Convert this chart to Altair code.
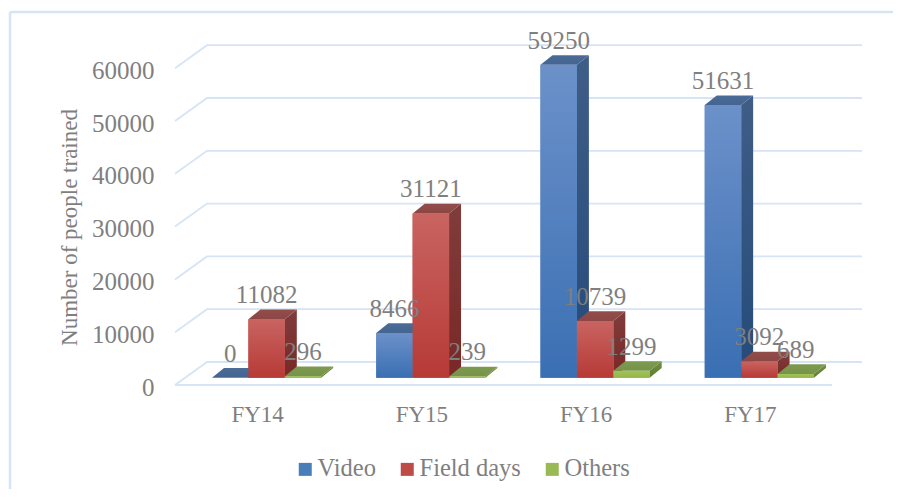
import altair as alt
import pandas as pd

categories = ["FY14", "FY15", "FY16", "FY17"]
series = ["Video", "Field days", "Others"]
video = [0, 8466, 59250, 51631]
field_days = [11082, 31121, 10739, 3092]
others = [296, 239, 1299, 689]
ticks = [0, 10000, 20000, 30000, 40000, 50000, 60000]

FONT = "Liberation Serif"
TXT = "#7f7f7f"
GRID = "#d6e4f5"

W, H = 885, 481
UX = 164.25          # px per category
UY = 52.8 / 10000    # px per value unit
X0, Y0 = 167, 377    # plot position of the floor's front-left corner
xdom = [-X0 / UX, (W - X0) / UX]
ydom = [-(H - Y0) / UY, Y0 / UY]
xs = alt.Scale(domain=xdom, range=[0, W], nice=False, zero=False)
ys = alt.Scale(domain=ydom, range=[H, 0], nice=False, zero=False)


def px(v):
    return v / UX


def py(v):
    return v / UY


BAR_W = px(36.4)
BAR_START = px(37)
BASE = py(7.3)
DX, DY = px(12), py(9.7)
WALL_DX, WALL_DY = px(32), py(23)
X_END = 657 / UX

xaxis = alt.Axis(values=[0.5, 1.5, 2.5, 3.5], orient="bottom", domain=False, ticks=False,
                 grid=False, offset=-86, labelPadding=0, labelFont=FONT, labelFontSize=23,
                 labelColor=TXT, labelBaseline="top", title=None,
                 labelExpr="['FY14','FY15','FY16','FY17'][floor(datum.value)]")
yaxis = alt.Axis(values=ticks, orient="left", domain=False, ticks=False, grid=False,
                 offset=-146, labelPadding=0, labelFont=FONT, labelFontSize=25,
                 labelColor=TXT, format="d", labelOffset=2,
                 title="Number of people trained", titleFont=FONT, titleFontSize=23,
                 titleFontWeight="normal", titleColor=TXT, titleAngle=-90,
                 titleX=-73, titleY=219)
X = alt.X("x:Q", scale=xs, axis=xaxis)
Y = alt.Y("y:Q", scale=ys, axis=yaxis)


def grad(top, bottom):
    return alt.Gradient(gradient="linear", x1=0, x2=0, y1=0, y2=1,
                        stops=[alt.GradientStop(offset=0, color=top),
                               alt.GradientStop(offset=1, color=bottom)])


# grid
grid_rows = []
for t in ticks:
    grid_rows += [
        {"g": f"d{t}", "x": 0, "y": t},
        {"g": f"d{t}", "x": WALL_DX, "y": t + WALL_DY},
        {"g": f"d{t}", "x": X_END + WALL_DX - px(2), "y": t + WALL_DY},
    ]
grid_rows += [{"g": "front", "x": 0, "y": 0}, {"g": "front", "x": X_END, "y": 0}]
grid = alt.Chart(pd.DataFrame(grid_rows)).mark_line(color=GRID, strokeWidth=1.8).encode(
    x=X, y=Y, detail="g:N")

# frame
frame_v = alt.Chart(pd.DataFrame({"a": [0]})).mark_rule(color=GRID, strokeWidth=2.5).encode(
    x=alt.value(2), y=alt.value(4), y2=alt.value(H))
frame_h = alt.Chart(pd.DataFrame({"a": [0]})).mark_rule(color=GRID, strokeWidth=2.5).encode(
    x=alt.value(2), x2=alt.value(W), y=alt.value(4))

values = {"Video": video, "Field days": field_days, "Others": others}
colors = {
    "Video": dict(flat="#4a7ebb", front=("#6c91c9", "#3a6fb3"), side=("#3f5d87", "#254b7a"), top=("#4b6b98", "#456590")),
    "Field days": dict(flat="#be4b48", front=("#c96461", "#b73a36"), side=("#7f3d3b", "#792826"), top=("#924c4a", "#8c4644")),
    "Others": dict(flat="#98b954", front=("#a2c25b", "#93b648"), side=("#6f8d3f", "#5f7f30"), top=("#7d9a50", "#76934a")),
}

flat_rows, label_rows = [], []
face_layers = []
for si, s in enumerate(series):
    side_rows, top_rows, front_rows = [], [], []
    for ci, c in enumerate(categories):
        v = values[s][ci]
        xl = ci + BAR_START + si * BAR_W
        xr = xl + BAR_W
        top = BASE + v
        front_rows.append({"x": xl, "x2": xr, "y": top, "y2": BASE})
        flat_rows.append({"x": xl, "x2": xr, "y": top, "y2": BASE, "series": s})
        side_rows += [{"b": c, "x": xr, "y": top, "y2": BASE},
                      {"b": c, "x": xr + DX, "y": top + DY, "y2": BASE + DY}]
        top_rows += [{"b": c, "y": top, "x": xl, "x2": xr},
                     {"b": c, "y": top + DY, "x": xl + DX, "x2": xr + DX}]
        label_rows.append({"x": (xl + xr) / 2, "y": top, "v": v})
    col = colors[s]
    side = alt.Chart(pd.DataFrame(side_rows)).mark_area(color=grad(*col["side"])).encode(
        x=X, y=Y, y2="y2:Q", detail="b:N")
    topf = alt.Chart(pd.DataFrame(top_rows)).mark_area(color=grad(*col["top"]), orient="horizontal").encode(
        y=Y, x=X, x2="x2:Q", detail="b:N")
    front = alt.Chart(pd.DataFrame(front_rows)).mark_rect(color=grad(*col["front"])).encode(
        x=X, x2="x2:Q", y=Y, y2="y2:Q")
    face_layers += [side, topf, front]

flat = alt.Chart(pd.DataFrame(flat_rows)).mark_rect().encode(
    x=X, x2="x2:Q", y=Y, y2="y2:Q",
    color=alt.Color("series:N", title=None,
                    scale=alt.Scale(domain=series, range=[colors[s]["flat"] for s in series]),
                    legend=alt.Legend(orient="none", legendX=285, legendY=449, direction="horizontal",
                                      symbolType="square", symbolSize=169, symbolStrokeWidth=0,
                                      labelFont=FONT, labelFontSize=24.5, labelColor=TXT, labelOffset=0,
                                      columnPadding=19)),
)

labels = alt.Chart(pd.DataFrame(label_rows)).mark_text(
    font=FONT, fontSize=25, color=TXT, baseline="middle", dy=-24).encode(
    x=X, y=Y, text="v:Q")

chart = alt.layer(frame_v, frame_h, grid, flat, *face_layers, labels).properties(
    width=W, height=H, padding=0, autosize=alt.AutoSizeParams(type="none"),
    background="white").configure_view(stroke=None)

chart.save("out.html", embed_options={"renderer": "svg", "actions": False})
